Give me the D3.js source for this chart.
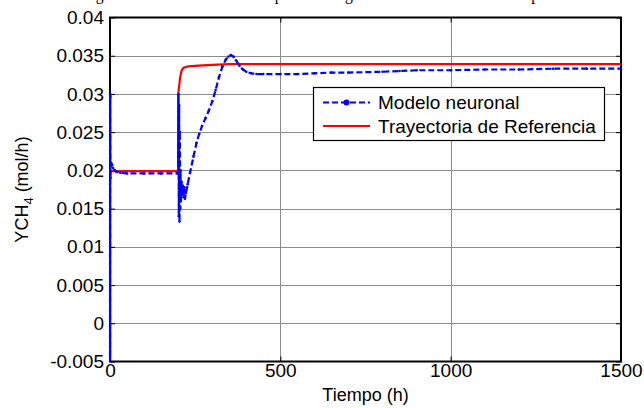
<!DOCTYPE html>
<html>
<head>
<meta charset="utf-8">
<script src="https://cdn.jsdelivr.net/npm/d3@7"></script>
<style>
  body { margin: 0; background: #fff; }
  svg { display: block; }
  text { font-family: "Liberation Sans", Arial, sans-serif; fill: #000; }
</style>
</head>
<body>
<script>
// Reference trajectory (red)
const tiempoRef = [0, 199, 200, 200.4, 203, 206, 210, 215, 220, 230, 260, 300, 350, 400, 1500];
const ychRef    = [0.0199, 0.0199, 0.0199, 0.0300, 0.0311, 0.0322, 0.0330, 0.0334, 0.0335, 0.0336, 0.0337, 0.0338, 0.0339, 0.0339, 0.0339];

// Neural model output (blue, dashed with point markers)
const tiempoModelo = [0, 0.2, 0.4, 0.6, 0.8, 1.0, 1.5, 2.5, 4, 6, 9, 14, 20, 30, 50, 100, 150, 198,
  200, 201, 202, 203, 204, 205, 206, 207, 208, 210, 212, 214, 216, 218, 220, 223, 228, 235,
  245, 254, 262, 270, 280, 290, 300, 310, 320, 330, 340, 348, 355, 362, 370, 380, 390, 400,
  415, 430, 450, 500, 550, 600, 650, 700, 800, 850, 900, 1000, 1100, 1200, 1300, 1400, 1500];
const ychModelo = [-0.008, 0.0300, -0.008, 0.0298, -0.008, 0.0296, 0.0190, 0.0205, 0.0209, 0.0207, 0.0203, 0.0200, 0.0198, 0.0197, 0.0196, 0.0196, 0.0196, 0.0196,
  0.0197, 0.0300, 0.0140, 0.0285, 0.0133, 0.0250, 0.0150, 0.0200, 0.0160, 0.0185, 0.0168, 0.0180, 0.0165, 0.0178, 0.0163, 0.0170, 0.0182, 0.0197,
  0.0218, 0.0236, 0.0248, 0.0258, 0.0268, 0.0278, 0.0290, 0.0305, 0.0322, 0.0336, 0.0345, 0.0349, 0.0351, 0.0349, 0.0344, 0.0337, 0.0332, 0.0329,
  0.0327, 0.0326, 0.0326, 0.0326, 0.0326, 0.0327, 0.0328, 0.0328, 0.0329, 0.0330, 0.0331, 0.0331, 0.0332, 0.0332, 0.0333, 0.0333, 0.0333];

const xTickValues = [0, 500, 1000, 1500];
const yTickValues = [-0.005, 0, 0.005, 0.01, 0.015, 0.02, 0.025, 0.03, 0.035, 0.04];
const yTickLabels = ["-0.005", "0", "0.005", "0.01", "0.015", "0.02", "0.025", "0.03", "0.035", "0.04"];
const legendLabels = ["Modelo neuronal", "Trayectoria de Referencia"];
const tituloGrafico = "Seguimiento de la referencia a paso de carga en la salida del modelo de proceso";

const W = 644, H = 408;
const plot = { left: 110, right: 621, top: 17.5, bottom: 361.5 };

const svg = d3.select("body").append("svg").attr("width", W).attr("height", H);

const x = d3.scaleLinear().domain([0, 1500]).range([plot.left, plot.right]);
const y = d3.scaleLinear().domain([-0.005, 0.04]).range([plot.bottom, plot.top]);

// Title, running off the top edge of the figure
svg.append("text")
  .attr("x", 80).attr("y", 0)
  .attr("textLength", 500).attr("lengthAdjust", "spacingAndGlyphs")
  .style("font-family", "'Liberation Serif', 'Times New Roman', serif")
  .style("font-size", "18px")
  .text(tituloGrafico);

// Grid
const grid = svg.append("g").attr("stroke", "#8c8c8c").attr("stroke-width", 1);
grid.selectAll("line.gy").data(yTickValues.slice(1, -1)).join("line")
  .attr("x1", plot.left).attr("x2", plot.right)
  .attr("y1", d => Math.round(y(d)) + 0.5).attr("y2", d => Math.round(y(d)) + 0.5);
grid.selectAll("line.gx").data(xTickValues.slice(1, -1)).join("line")
  .attr("y1", plot.top).attr("y2", plot.bottom)
  .attr("x1", d => Math.round(x(d)) + 0.5).attr("x2", d => Math.round(x(d)) + 0.5);

// Axes (inward ticks on all four sides)
const fmt = d => yTickLabels[yTickValues.indexOf(d)];
const axLeft = d3.axisLeft(y).tickValues(yTickValues).tickFormat(fmt).tickSizeInner(-5).tickSizeOuter(0).tickPadding(6);
const axRight = d3.axisRight(y).tickValues(yTickValues).tickFormat("").tickSizeInner(-5).tickSizeOuter(0);
const axBottom = d3.axisBottom(x).tickValues(xTickValues).tickFormat(d3.format("d")).tickSizeInner(-5).tickSizeOuter(0).tickPadding(2);
const axTop = d3.axisTop(x).tickValues(xTickValues).tickFormat("").tickSizeInner(-5).tickSizeOuter(0);

function styleAxis(g) {
  g.select(".domain").remove();
  g.selectAll(".tick line").attr("stroke", "#000").attr("stroke-width", 1);
  g.selectAll(".tick text").style("font-size", "19px").attr("fill", "#000")
    .style("font-family", "'Liberation Sans', Arial, sans-serif");
}
svg.append("g").attr("transform", `translate(${plot.left},0)`).call(axLeft).call(styleAxis);
svg.append("g").attr("transform", `translate(${plot.right},0)`).call(axRight).call(styleAxis);
svg.append("g").attr("transform", `translate(0,${plot.bottom})`).call(axBottom).call(styleAxis);
svg.append("g").attr("transform", `translate(0,${plot.top})`).call(axTop).call(styleAxis);

// Box
svg.append("rect")
  .attr("x", plot.left).attr("y", plot.top)
  .attr("width", plot.right - plot.left).attr("height", plot.bottom - plot.top)
  .attr("fill", "none").attr("stroke", "#000").attr("stroke-width", 2);

// Clip for data
svg.append("clipPath").attr("id", "area")
  .append("rect").attr("x", plot.left - 2).attr("y", plot.top)
  .attr("width", plot.right - plot.left + 4).attr("height", plot.bottom - plot.top);

const line = d3.line().x(d => x(d[0])).y(d => y(d[1]));
const dataG = svg.append("g").attr("clip-path", "url(#area)");

dataG.append("path")
  .datum(tiempoRef.map((t, i) => [t, ychRef[i]]))
  .attr("d", line).attr("fill", "none")
  .attr("stroke", "#ff0000").attr("stroke-width", 2.2);

const modelo = tiempoModelo.map((t, i) => [t, ychModelo[i]]);
dataG.append("path")
  .datum(modelo)
  .attr("d", line).attr("fill", "none")
  .attr("stroke", "#0000ff").attr("stroke-width", 2.2)
  .attr("stroke-dasharray", "6,3");
dataG.selectAll("circle.pt").data(modelo).join("circle")
  .attr("cx", d => x(d[0])).attr("cy", d => y(d[1])).attr("r", 1.3)
  .attr("fill", "#0000ff");

// Axis labels
svg.append("text")
  .attr("x", (plot.left + plot.right) / 2).attr("y", 401)
  .attr("text-anchor", "middle").style("font-size", "18px")
  .text("Tiempo (h)");

const yl = svg.append("text")
  .attr("transform", `translate(28,${(plot.top + plot.bottom) / 2}) rotate(-90)`)
  .attr("text-anchor", "middle").style("font-size", "18px");
yl.append("tspan").text("YCH");
yl.append("tspan").attr("dy", 5).style("font-size", "13px").text("4");
yl.append("tspan").attr("dy", -5).text(" (mol/h)");

// Legend
const lg = svg.append("g");
lg.append("rect").attr("x", 313.5).attr("y", 87.5).attr("width", 291).attr("height", 53)
  .attr("fill", "#fff").attr("stroke", "#000").attr("stroke-width", 1.2);
const rows = [102.5, 126];
lg.append("line").attr("x1", 323).attr("x2", 370).attr("y1", rows[0]).attr("y2", rows[0])
  .attr("stroke", "#0000ff").attr("stroke-width", 2.2).attr("stroke-dasharray", "6,3");
lg.append("circle").attr("cx", 346.5).attr("cy", rows[0]).attr("r", 3).attr("fill", "#0000ff");
lg.append("line").attr("x1", 323).attr("x2", 370).attr("y1", rows[1]).attr("y2", rows[1])
  .attr("stroke", "#ff0000").attr("stroke-width", 2.2);
lg.selectAll("text.lab").data(legendLabels).join("text")
  .attr("x", 378).attr("y", (d, i) => rows[i] + 6.5)
  .style("font-size", "19px").text(d => d);
</script>
</body>
</html>
